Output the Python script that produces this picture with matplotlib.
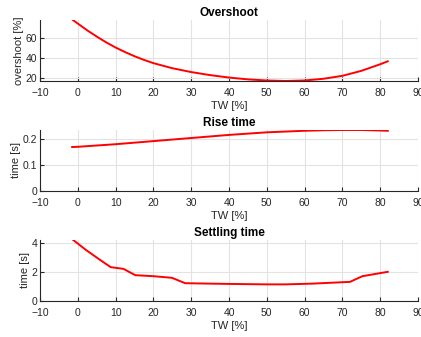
import matplotlib
matplotlib.use("Agg")
import matplotlib.pyplot as plt

plt.rcParams['font.family'] = ['Liberation Sans', 'DejaVu Sans']

# Overshoot versus TW
tw_os = [-1.3, 0, 2.5, 5, 7.5, 10, 12.5, 15, 17.5, 20, 25, 30, 35, 40, 45, 50, 55, 60,
         65, 70, 75, 80, 82]
overshoot = [77.5, 74.0, 67.3, 61.2, 55.5, 50.4, 45.9, 41.8, 38.2, 35.0, 30.0, 26.2,
             23.2, 20.8, 19.0, 17.9, 17.4, 17.9, 19.6, 22.5, 27.4, 33.9, 36.8]

# Rise time versus TW
tw_rt = [-1.5, 0, 10, 20, 30, 40, 50, 60, 65, 70, 75, 80, 82]
rise_time = [0.170, 0.171, 0.181, 0.193, 0.205, 0.217, 0.227, 0.233, 0.235, 0.236,
             0.236, 0.234, 0.233]

# Settling time versus TW
tw_st = [-1.2, 2.2, 5.7, 8.7, 12.1, 15.2, 20.0, 24.9, 28.4, 35.0, 40.0, 50.0, 55.0,
         62.0, 70.3, 72.0, 75.3, 82.0]
settling = [4.18, 3.49, 2.85, 2.32, 2.20, 1.77, 1.70, 1.59, 1.22, 1.19, 1.17, 1.14,
            1.14, 1.19, 1.29, 1.31, 1.70, 2.00]

x_ticks = list(range(-10, 91, 10))

W, H = 421, 337
fig = plt.figure(figsize=(W / 100, H / 100), dpi=100)

panels = [
    (tw_os, overshoot, 'Overshoot', 'overshoot [%]', (min(overshoot), max(overshoot)), [20, 40, 60], 20, 81),
    (tw_rt, rise_time, 'Rise time', 'time [s]', (0, max(rise_time)), [0, 0.1, 0.2], 130, 191),
    (tw_st, settling, 'Settling time', 'time [s]', (0, max(settling)), [0, 2, 4], 240, 301),
]

axis_col = '#262626'
for xs, ys, title, ylabel, ylim, yticks, top_px, bot_px in panels:
    ax = fig.add_axes([40 / W, 1 - bot_px / H, 378 / W, (bot_px - top_px) / H])
    ax.plot(xs, ys, color='red', lw=1.4)
    ax.set_xlim(-10, 90)
    ax.set_ylim(*ylim)
    ax.set_xticks(x_ticks)
    ax.set_yticks(yticks)
    ax.set_yticklabels([f'{t:g}' for t in yticks])
    ax.grid(True, color='#e3e3e3', lw=0.8)
    ax.set_axisbelow(True)
    for s in ('top', 'right'):
        ax.spines[s].set_visible(False)
    for s in ('left', 'bottom'):
        ax.spines[s].set_color(axis_col)
        ax.spines[s].set_linewidth(0.8)
    ax.tick_params(direction='in', length=3, width=0.8, colors=axis_col,
                   labelsize=7.5)
    ax.tick_params(axis='x', pad=5)
    ax.tick_params(axis='y', pad=2)
    ax.set_title(title, fontsize=8.5, fontweight='bold', pad=3)
    ax.set_xlabel('TW [%]', fontsize=8, color=axis_col, labelpad=2)
    ax.set_ylabel(ylabel, fontsize=8, color=axis_col, labelpad=1)

fig.savefig('out.png', dpi=100)
